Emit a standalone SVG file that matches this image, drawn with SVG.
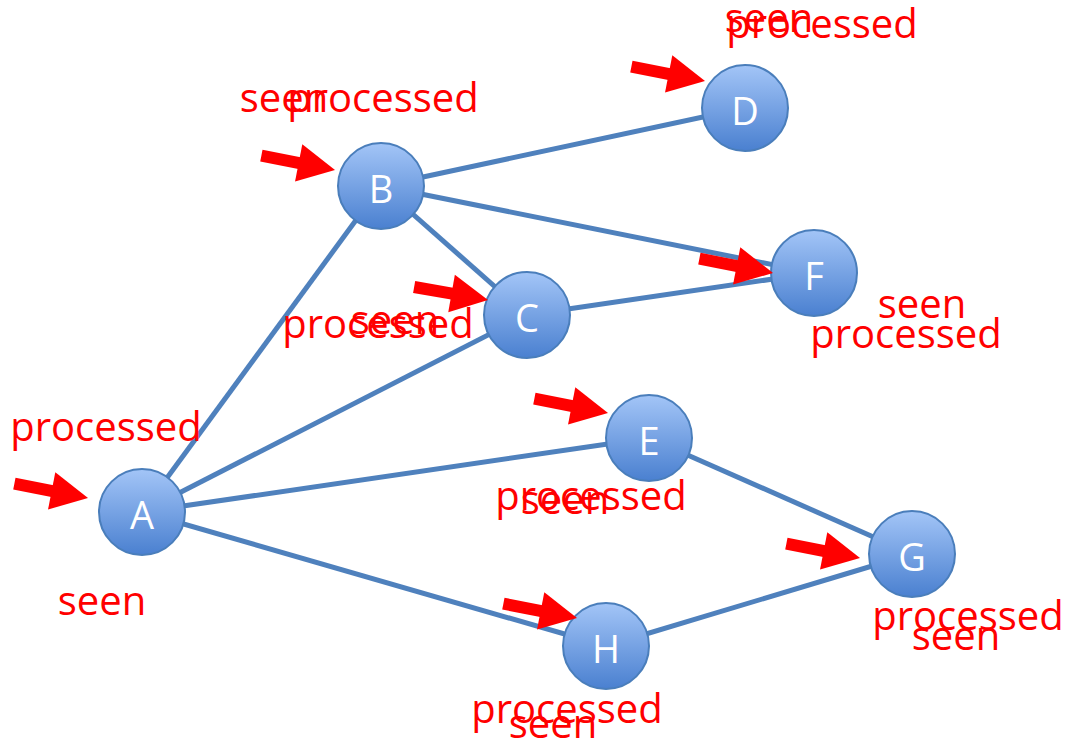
<svg xmlns="http://www.w3.org/2000/svg" xmlns:xlink="http://www.w3.org/1999/xlink" width="1065" height="742" viewBox="0 0 1065 742">
  <style>
    .edge { stroke: #4f81bd; stroke-width: 5; fill: none; }
    .node circle { fill: url(#ball); stroke: #4a7ebb; stroke-width: 2; }
    .node text { font-family: "Open Sans", "Liberation Sans", sans-serif; font-size: 38px; fill: #ffffff; text-anchor: middle; }
    .lbl { font-family: "Open Sans", "Liberation Sans", sans-serif; font-size: 40px; fill: #ff0000; text-anchor: middle; }
    .ptr { fill: #ff0000; }
  </style>
  <defs>
    <linearGradient id="ball" x1="0" y1="0" x2="0" y2="1">
      <stop offset="0" stop-color="#a3c5f7"/>
      <stop offset="1" stop-color="#4a80d0"/>
    </linearGradient>
    <!-- red block arrow, tip at the origin, pointing along +x -->
    <g id="ptr" class="ptr">
      <rect x="-75" y="-6" width="40" height="12"/>
      <polygon points="-37,-19 0,0 -37,19"/>
    </g>
  </defs>

  <rect width="1065" height="742" fill="#ffffff"/>

  <g id="edges">
    <line class="edge" x1="142" y1="512" x2="381" y2="186"/>
    <line class="edge" x1="142" y1="512" x2="527" y2="315"/>
    <line class="edge" x1="142" y1="512" x2="649" y2="438"/>
    <line class="edge" x1="142" y1="512" x2="606" y2="646"/>
    <line class="edge" x1="381" y1="186" x2="745" y2="108"/>
    <line class="edge" x1="381" y1="186" x2="814" y2="273"/>
    <line class="edge" x1="381" y1="186" x2="527" y2="315"/>
    <line class="edge" x1="527" y1="315" x2="814" y2="273"/>
    <line class="edge" x1="649" y1="438" x2="912" y2="554"/>
    <line class="edge" x1="606" y1="646" x2="912" y2="554"/>
  </g>

  <g id="node-A" class="node"><circle cx="142" cy="512" r="43"/><text x="142" y="529">A</text></g>
  <g id="node-B" class="node"><circle cx="381" cy="186" r="43"/><text x="381" y="203">B</text></g>
  <g id="node-C" class="node"><circle cx="527" cy="315" r="43"/><text x="527" y="332">C</text></g>
  <g id="node-D" class="node"><circle cx="745" cy="108" r="43"/><text x="745" y="125">D</text></g>
  <g id="node-E" class="node"><circle cx="649" cy="438" r="43"/><text x="649" y="455">E</text></g>
  <g id="node-F" class="node"><circle cx="814" cy="273" r="43"/><text x="814" y="290">F</text></g>
  <g id="node-G" class="node"><circle cx="912" cy="554" r="43"/><text x="912" y="571">G</text></g>
  <g id="node-H" class="node"><circle cx="606" cy="646" r="43"/><text x="606" y="663">H</text></g>

  <g id="pointers">
    <use xlink:href="#ptr" transform="translate(88,498) rotate(11)"/>
    <use xlink:href="#ptr" transform="translate(335,170) rotate(11)"/>
    <use xlink:href="#ptr" transform="translate(705,81) rotate(11)"/>
    <use xlink:href="#ptr" transform="translate(488,300) rotate(10)"/>
    <use xlink:href="#ptr" transform="translate(608,413) rotate(11)"/>
    <use xlink:href="#ptr" transform="translate(773,273) rotate(11)"/>
    <use xlink:href="#ptr" transform="translate(860,558) rotate(11)"/>
    <use xlink:href="#ptr" transform="translate(577,618) rotate(11)"/>
  </g>

  <g id="labels">
    <text class="lbl" x="106" y="441">processed</text>
    <text class="lbl" x="102" y="615">seen</text>

    <text class="lbl" x="284" y="112">seen</text>
    <text class="lbl" x="383" y="112">processed</text>

    <text class="lbl" x="769" y="32">seen</text>
    <text class="lbl" x="822" y="38">processed</text>

    <text class="lbl" x="395" y="334">seen</text>
    <text class="lbl" x="378" y="338">processed</text>

    <text class="lbl" x="922" y="318">seen</text>
    <text class="lbl" x="906" y="348">processed</text>

    <text class="lbl" x="565" y="514">seen</text>
    <text class="lbl" x="591" y="510">processed</text>

    <text class="lbl" x="968" y="630">processed</text>
    <text class="lbl" x="956" y="650">seen</text>

    <text class="lbl" x="567" y="723">processed</text>
    <text class="lbl" x="553" y="738">seen</text>
  </g>
</svg>
